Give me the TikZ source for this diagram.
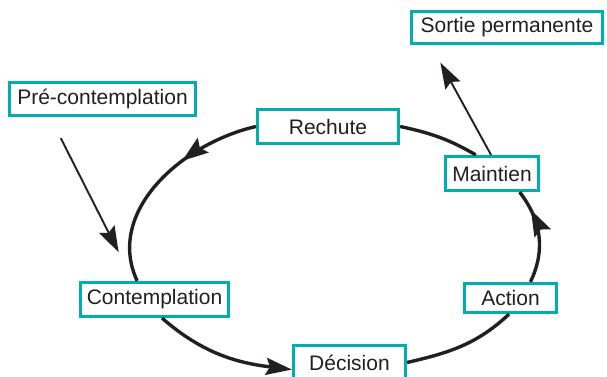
\documentclass[tikz,border=0pt]{standalone}
\usepackage{fontspec}
\setmainfont{Liberation Sans}
\usepackage{tikz}
\usepackage{xcolor}
\usetikzlibrary{arrows.meta, decorations.markings}

\definecolor{boxteal}{RGB}{0,174,175}
\definecolor{ink}{RGB}{35,31,32}

\tikzset{
  stage/.style={draw=boxteal, line width=3.2pt, fill=white, inner sep=0pt,
    text=ink, font=\fontsize{21}{24}\selectfont},
  cyc/.style={draw=ink, line width=3.4pt},
  thinline/.style={draw=ink, line width=1.9pt},
  midarrow/.style={postaction={decorate}, decoration={markings,
    mark=at position #1 with {\arrow{Stealth[length=26pt,width=18pt,inset=4pt]}}}}
}

\begin{document}
\begin{tikzpicture}[x=1pt, y=1pt, >={Stealth[length=26pt,width=17pt,inset=4pt]}]
        \useasboundingbox (0,0) rectangle (607,377);
        \node[stage, minimum width=186pt, minimum height=33pt] (pre) at (102.5,278.3) {Pré-contemplation};
        \node[stage, minimum width=141pt, minimum height=34pt] (rechute) at (328,250.5) {Rechute};
        \node[stage, minimum width=191pt, minimum height=32pt] (sortie) at (507,349.5) {Sortie permanente};
        \node[stage, minimum width=93pt, minimum height=34pt] (maintien) at (492,203.5) {Maintien};
        \node[stage, minimum width=148pt, minimum height=34pt] (contemp) at (154.5,77.5) {Contemplation};
        \node[stage, minimum width=112pt, minimum height=34pt] (decision) at (349.5,14.5) {Décision};
        \node[stage, minimum width=92pt, minimum height=29pt] (action) at (510.5,79) {Action};
        \draw[cyc, midarrow=0.37] (rechute.west) to[out=193, in=115] (contemp.133);
        \draw[cyc, ->] (contemp.-68) to[out=-41, in=173] (decision.187);
        \draw[cyc] (decision.east) to[out=13, in=223] (action.265);
        \draw[cyc, midarrow=0.78] (action.39) to[out=64, in=-52] (maintien.-34);
        \draw[cyc] (maintien.131) to[out=150, in=-12] (rechute.east);
        \draw[thinline, ->, shorten <=24pt, shorten >=32pt] (pre.199) -- (contemp.139);
        \draw[thinline, ->, shorten >=20pt] (maintien.93) -- (sortie.193);
    \end{tikzpicture}
\end{document}
